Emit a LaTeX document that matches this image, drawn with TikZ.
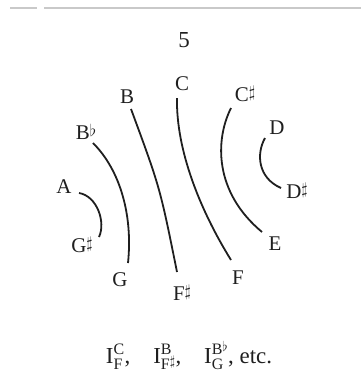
\documentclass[tikz,border=0pt]{standalone}
\usepackage{fontspec}
\setmainfont{Liberation Serif}
\definecolor{ink}{HTML}{1F1F1F}
\definecolor{rulegray}{HTML}{C9C9C9}
\newcommand{\shp}{\raisebox{.45ex}{\scalebox{.8}{$\sharp$}}}
\newcommand{\flt}{\raisebox{.35ex}{\scalebox{.8}{$\flat$}}}
\newcommand{\scr}[1]{\mbox{\fontsize{16}{16}\selectfont#1}}
\newcommand{\ivl}[2]{I$^{\scr{#1}}_{\scr{#2}}$}
\tikzset{every node/.style={font=\fontsize{21}{24}\selectfont,text=ink,inner sep=1pt},
  chord/.style={draw=ink,line width=1.8bp},
  topline/.style={draw=rulegray,line width=1.6bp}}

\begin{document}
\begin{tikzpicture}[x=1bp,y=-1bp]
\useasboundingbox(0,0)rectangle(361,381);
\coordinate(r0)at(10,8);\coordinate(r1)at(37,8);\coordinate(r2)at(44,8);\coordinate(r3)at(361,8);
\draw[topline](r0)--(r1);\draw[topline](r2)--(r3);
\node[font=\fontsize{23}{26}\selectfont](num)at(184,40){5};
% note names round the circle
\node(C)at(182,84){C};\node(B)at(127,97){B};\node(Cs)at(245,94){C\shp};
\node(Bb)at(86,132){B\flt};\node(D)at(277,128){D};
\node(A)at(64,187){A};\node(Ds)at(297,191){D\shp};
\node(Gs)at(82,245){G\shp};\node(E)at(275,244){E};
\node(G)at(120,280){G};\node(F)at(238,278){F};\node(Fs)at(182,293){F\shp};
% chords
\coordinate(a1)at(79,193);\coordinate(a2)at(99,237);
\coordinate(bb1)at(93,143);\coordinate(bb2)at(128,263);
\coordinate(b1)at(131,109);\coordinate(b2)at(177,272);
\coordinate(c1)at(177,98);\coordinate(c2)at(231,260);
\coordinate(cs1)at(231,108);\coordinate(cs2)at(262,232);
\coordinate(d1)at(265,138);\coordinate(d2)at(281,188);
\draw[chord](a1)..controls(97,196)and(106,222)..(a2);
\draw[chord](bb1)..controls(120,170)and(133,215)..(bb2);
\draw[chord](b1)..controls(160,187.5)..(b2);
\draw[chord](c1)..controls(176,150)and(200,210)..(c2);
\draw[chord](cs1)..controls(215,140)and(214,192)..(cs2);
\draw[chord](d1)..controls(256,154)and(258,178)..(d2);
\node[font=\fontsize{23}{26}\selectfont,anchor=base](caption)at(189,363){\ivl{C}{F},\quad\ivl{B}{F\shp},\quad\ivl{B\flt}{G}, etc.};
\end{tikzpicture}
\end{document}
